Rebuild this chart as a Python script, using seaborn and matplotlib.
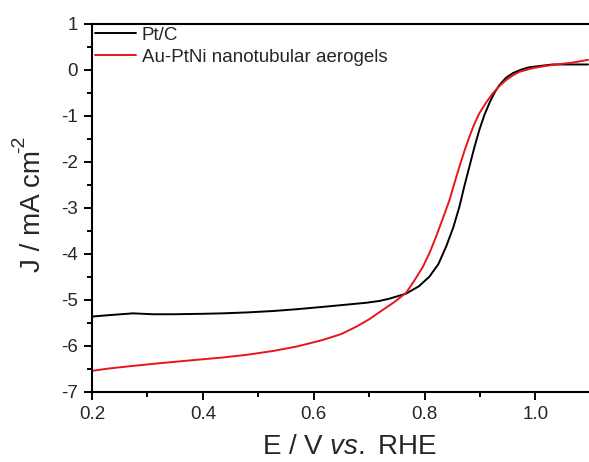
import numpy as np
import pandas as pd
import seaborn as sns
import matplotlib.pyplot as plt
from matplotlib.ticker import MultipleLocator

# Pt/C curve
e_ptc = [0.200, 0.230, 0.274, 0.310, 0.346, 0.400, 0.436, 0.480, 0.526, 0.570,
         0.616, 0.660, 0.695, 0.719, 0.737, 0.767, 0.790, 0.809, 0.825, 0.839,
         0.852, 0.863, 0.872, 0.881, 0.890, 0.899, 0.908, 0.917, 0.926, 0.935,
         0.947, 0.959, 0.975, 0.989, 1.010, 1.031, 1.060, 1.095]
j_ptc = [-5.36, -5.33, -5.29, -5.31, -5.31, -5.30, -5.29, -5.27, -5.24, -5.20,
         -5.15, -5.10, -5.06, -5.02, -4.97, -4.86, -4.70, -4.49, -4.22, -3.84,
         -3.42, -2.97, -2.52, -2.10, -1.68, -1.30, -0.98, -0.72, -0.50, -0.33,
         -0.17, -0.07, 0.01, 0.06, 0.09, 0.12, 0.12, 0.12]

# Au-PtNi nanotubular aerogels curve
e_au = [0.200, 0.230, 0.260, 0.317, 0.380, 0.436, 0.480, 0.526, 0.570, 0.616,
        0.650, 0.677, 0.700, 0.724, 0.745, 0.767, 0.782, 0.797, 0.810, 0.821,
        0.833, 0.845, 0.854, 0.863, 0.872, 0.881, 0.890, 0.899, 0.911, 0.923,
        0.935, 0.947, 0.959, 0.971, 0.995, 1.019, 1.045, 1.067, 1.095]
j_au = [-6.54, -6.49, -6.45, -6.38, -6.31, -6.25, -6.19, -6.11, -6.01, -5.87,
        -5.74, -5.58, -5.42, -5.22, -5.05, -4.84, -4.57, -4.28, -3.95, -3.62,
        -3.23, -2.83, -2.46, -2.10, -1.76, -1.45, -1.17, -0.94, -0.71, -0.51,
        -0.35, -0.22, -0.12, -0.04, 0.04, 0.09, 0.13, 0.16, 0.22]

labels = ["Pt/C", "Au-PtNi nanotubular aerogels"]
colors = ["black", "#e8141c"]

df = pd.concat([
    pd.DataFrame({"E": e_ptc, "J": j_ptc, "sample": labels[0]}),
    pd.DataFrame({"E": e_au, "J": j_au, "sample": labels[1]}),
])

sns.set_style("ticks")
plt.rcParams['font.family'] = ['Liberation Sans', 'DejaVu Sans']
plt.rcParams['axes.unicode_minus'] = False
plt.rcParams['mathtext.fontset'] = 'custom'
plt.rcParams['mathtext.rm'] = 'Liberation Sans'
plt.rcParams['mathtext.it'] = 'Liberation Sans:italic'

W, H = 589, 462
fig = plt.figure(figsize=(W / 100, H / 100), dpi=100)
ax = fig.add_axes([92 / W, 70 / H, 1 - 92 / W + 0.003, 368 / H])

sns.lineplot(data=df, x="E", y="J", hue="sample", palette=colors,
             estimator=None, sort=True, linewidth=1.4, ax=ax)

ax.set_xlim(0.2, 1.1)
ax.set_ylim(-7, 1)
ax.set_xticks([0.2, 0.4, 0.6, 0.8, 1.0])
ax.set_xticklabels(["0.2", "0.4", "0.6", "0.8", "1.0"])
ax.xaxis.set_minor_locator(MultipleLocator(0.1))
ax.yaxis.set_major_locator(MultipleLocator(1))
ax.yaxis.set_minor_locator(MultipleLocator(0.5))

ax.tick_params(axis="both", which="major", direction="out", length=6,
               width=1.4, labelsize=13.5, pad=4, color="black")
ax.tick_params(axis="both", which="minor", direction="out", length=3.5,
               width=1.4, color="black")

for side in ["left", "bottom", "top"]:
    ax.spines[side].set_linewidth(1.5)
    ax.spines[side].set_color("black")
ax.spines["right"].set_visible(False)

# axis titles placed by hand (reference layout)
ax.set_xlabel("")
ax.set_ylabel("")
fig.text(350 / W, 8 / H, "E / V $\\it{vs.}$ RHE", fontsize=20,
         ha="center", va="baseline")
ylab = fig.text(33 / W, (H - 272) / H, "J / mA cm", fontsize=20,
                rotation=90, ha="center", va="bottom")
fig.canvas.draw()
bb = ylab.get_window_extent()
fig.text(20 / W, (bb.y1 - 3) / H, "-2", fontsize=14, rotation=90,
         ha="center", va="bottom")

ax.legend(loc="upper left", frameon=False, fontsize=13.5, handlelength=2.2,
          handletextpad=0.3, labelspacing=0.25, borderaxespad=0.15,
          borderpad=0.0)

fig.savefig("out.png", dpi=100)
